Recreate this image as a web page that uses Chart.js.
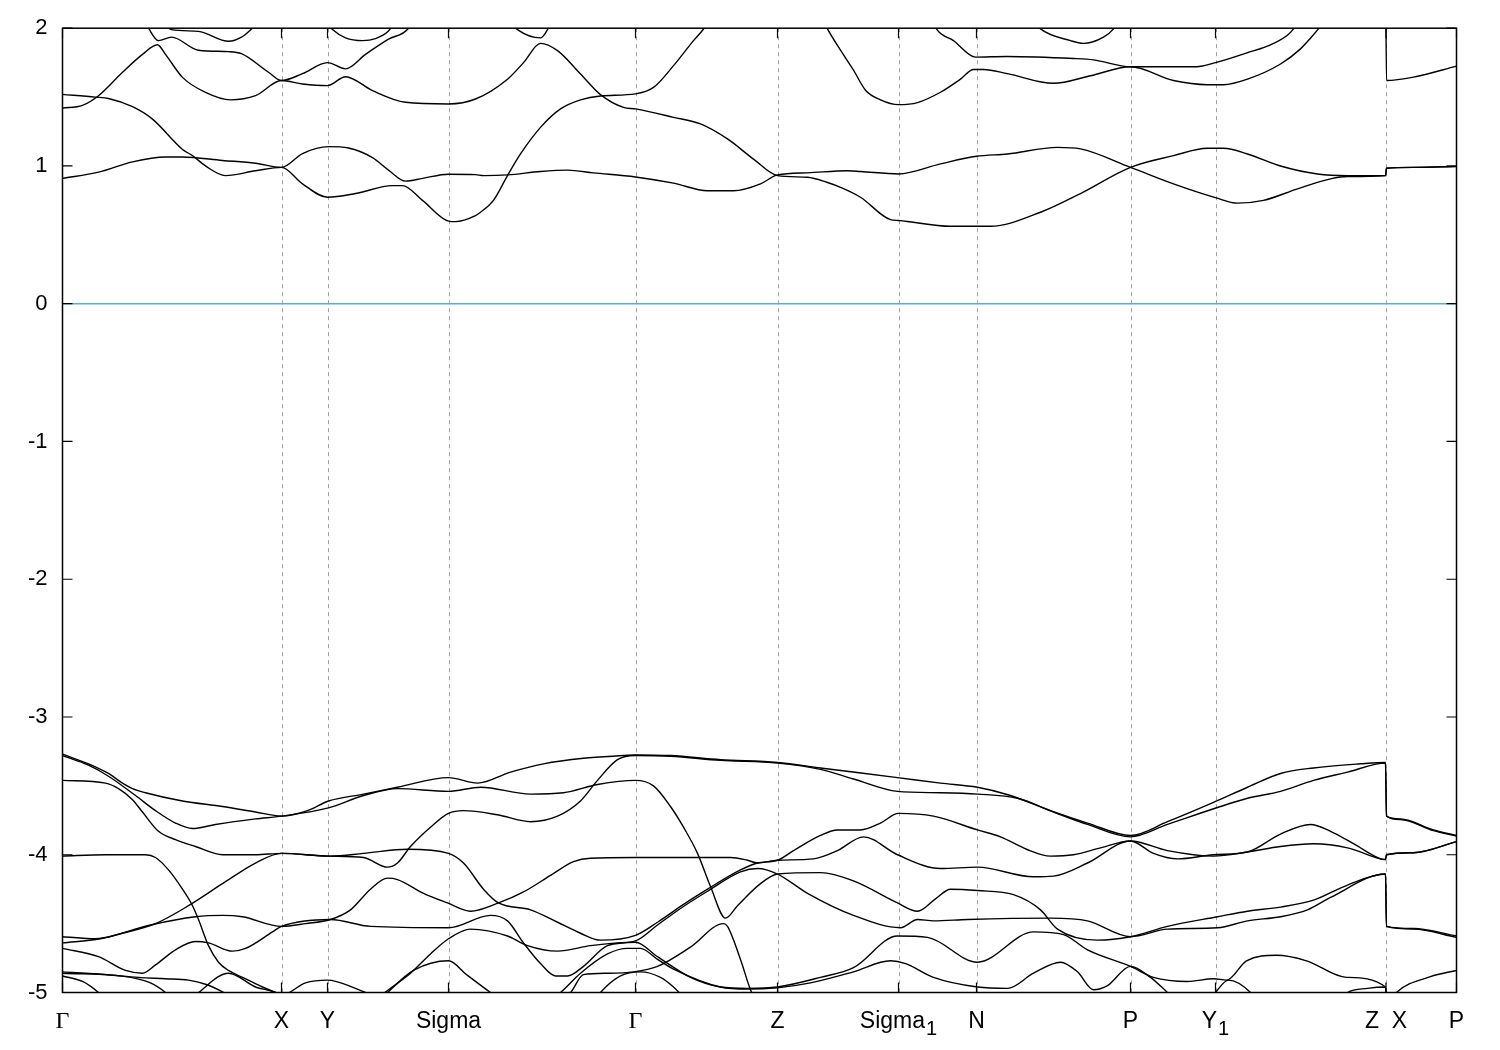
<!DOCTYPE html>
<html>
<head>
<meta charset="utf-8">
<script src="https://cdn.jsdelivr.net/npm/chart.js@4.4.1/dist/chart.umd.min.js"></script>
<style>
  html, body { margin: 0; padding: 0; background: #fff; }
  canvas { display: block; }
</style>
</head>
<body>
<canvas id="bands" width="1500" height="1050"></canvas>
<script>
// high-symmetry path (k in path-length units)
const kTicks = [0, 0.219, 0.265, 0.386, 0.573, 0.715, 0.836, 0.914, 1.068, 1.153, 1.3235, 1.394];
const kNames = ['Γ', 'X', 'Y', 'Sigma', 'Γ', 'Z', 'Sigma', 'N', 'P', 'Y', 'Z  X', 'P'];
const kSubs  = ['', '', '', '', '', '', '1', '', '', '1', '', ''];
const yMin = -5, yMax = 2;

// Fermi level
const fermi = [[0, 0], [1.394, 0]];

// conduction bands [k, E]
const cb1 = [[0.000,0.91],[0.036,0.955],[0.070,1.03],[0.103,1.065],[0.120,1.065],[0.160,1.04],[0.193,1.02],[0.219,0.99],[0.240,1.09],[0.266,1.14],[0.286,1.13],[0.310,1.06],[0.326,0.97],[0.343,0.89],[0.360,0.91],[0.386,0.94],[0.413,0.937],[0.421,0.93],[0.445,0.935],[0.478,0.96],[0.505,0.97],[0.531,0.95],[0.573,0.92],[0.611,0.875],[0.645,0.82],[0.671,0.82],[0.698,0.87],[0.715,0.935],[0.745,0.95],[0.785,0.965],[0.798,0.96],[0.836,0.942],[0.878,1.015],[0.914,1.07],[0.945,1.087],[0.995,1.135],[1.018,1.124],[1.068,0.99],[1.111,0.87],[1.153,0.77],[1.175,0.73],[1.201,0.75],[1.235,0.834],[1.268,0.906],[1.285,0.923],[1.323,0.93],[1.324,0.983],[1.351,0.99],[1.394,0.995]];
const cb2 = [[0.000,1.52],[0.033,1.50],[0.046,1.49],[0.070,1.43],[0.090,1.34],[0.120,1.12],[0.130,1.075],[0.143,1.00],[0.163,0.93],[0.193,0.965],[0.219,0.99],[0.240,0.87],[0.265,0.773],[0.293,0.80],[0.330,0.857],[0.340,0.857],[0.360,0.75],[0.386,0.60],[0.393,0.596],[0.413,0.64],[0.418,0.664],[0.431,0.75],[0.445,0.93],[0.458,1.087],[0.478,1.28],[0.498,1.414],[0.518,1.48],[0.538,1.508],[0.573,1.523],[0.591,1.57],[0.611,1.728],[0.631,1.91],[0.641,1.994],[0.650,2.1]];
const cb3 = [[0.000,1.42],[0.020,1.44],[0.036,1.51],[0.060,1.68],[0.080,1.81],[0.095,1.88],[0.103,1.81],[0.120,1.643],[0.143,1.534],[0.168,1.48],[0.193,1.51],[0.219,1.62],[0.240,1.595],[0.265,1.583],[0.283,1.648],[0.310,1.547],[0.343,1.462],[0.386,1.45],[0.413,1.486],[0.445,1.63],[0.461,1.75],[0.478,1.89],[0.495,1.837],[0.518,1.668],[0.538,1.518],[0.561,1.425],[0.573,1.414],[0.611,1.353],[0.638,1.305],[0.665,1.196],[0.691,1.05],[0.715,0.93],[0.745,0.918],[0.765,0.88],[0.778,0.845],[0.798,0.773],[0.828,0.61],[0.836,0.604],[0.888,0.562],[0.928,0.562],[0.978,0.664],[1.018,0.80],[1.068,0.99],[1.111,1.075],[1.145,1.128],[1.161,1.128],[1.185,1.087],[1.218,1.00],[1.255,0.942],[1.285,0.93],[1.323,0.93],[1.324,0.983],[1.351,0.99],[1.394,0.997]];
const cb4 = [[0.078,2.1],[0.086,2.0],[0.096,1.91],[0.109,1.935],[0.136,1.84],[0.166,1.83],[0.179,1.815],[0.206,1.68],[0.219,1.62],[0.240,1.67],[0.265,1.75],[0.283,1.705],[0.303,1.81],[0.326,1.92],[0.346,2.0],[0.353,2.1]];
const cb5 = [[0.098,2.05],[0.109,1.99],[0.136,1.977],[0.166,1.905],[0.179,1.935],[0.189,1.995],[0.196,2.05]];
const cb6 = [[0.263,2.05],[0.270,1.99],[0.283,1.93],[0.300,1.91],[0.313,1.925],[0.326,1.98],[0.333,2.05]];
const cb7 = [[0.443,2.08],[0.455,1.99],[0.478,1.93],[0.485,1.99],[0.490,2.08]];
const cb8 = [[0.758,2.1],[0.765,1.995],[0.778,1.84],[0.791,1.695],[0.803,1.55],[0.818,1.48],[0.836,1.445],[0.855,1.46],[0.878,1.535],[0.898,1.63],[0.911,1.70],[0.921,1.70],[0.945,1.67],[0.991,1.60],[1.028,1.655],[1.068,1.72],[1.111,1.62],[1.145,1.59],[1.161,1.59],[1.185,1.63],[1.218,1.74],[1.238,1.85],[1.256,1.995],[1.268,2.1],[1.323,2.4],[1.324,1.62],[1.351,1.645],[1.394,1.725]];
const cb9 = [[0.868,2.1],[0.874,1.995],[0.891,1.91],[0.913,1.79],[0.944,1.795],[1.011,1.78],[1.031,1.77],[1.068,1.72],[1.134,1.72],[1.153,1.75],[1.184,1.82],[1.211,1.89],[1.231,1.995],[1.238,2.1]];
const cb10 = [[0.968,2.08],[0.978,1.995],[1.008,1.91],[1.021,1.89],[1.041,1.935],[1.051,1.995],[1.058,2.08]];

// valence bands [k, E]
const vb1 = [[0.000,-3.27],[0.026,-3.34],[0.046,-3.41],[0.060,-3.48],[0.070,-3.52],[0.083,-3.55],[0.120,-3.61],[0.160,-3.65],[0.193,-3.69],[0.219,-3.72],[0.245,-3.68],[0.266,-3.61],[0.301,-3.56],[0.335,-3.51],[0.386,-3.44],[0.415,-3.48],[0.448,-3.40],[0.481,-3.34],[0.521,-3.30],[0.561,-3.28],[0.573,-3.275],[0.608,-3.28],[0.658,-3.31],[0.715,-3.33],[0.758,-3.37],[0.835,-3.44],[0.878,-3.48],[0.915,-3.51],[0.948,-3.57],[0.988,-3.68],[1.025,-3.77],[1.068,-3.86],[1.105,-3.76],[1.151,-3.62],[1.185,-3.51],[1.218,-3.41],[1.251,-3.37],[1.298,-3.34],[1.323,-3.33],[1.324,-3.72],[1.338,-3.74],[1.371,-3.82],[1.394,-3.86]];
const vb2 = [[0.000,-3.28],[0.026,-3.35],[0.046,-3.43],[0.073,-3.57],[0.093,-3.68],[0.113,-3.77],[0.130,-3.81],[0.153,-3.78],[0.193,-3.74],[0.219,-3.72],[0.266,-3.66],[0.301,-3.57],[0.335,-3.52],[0.386,-3.54],[0.418,-3.51],[0.468,-3.56],[0.501,-3.55],[0.535,-3.49],[0.573,-3.46],[0.591,-3.50],[0.608,-3.65],[0.621,-3.80],[0.635,-3.99],[0.648,-4.23],[0.663,-4.46],[0.675,-4.37],[0.698,-4.21],[0.715,-4.14],[0.758,-4.13],[0.791,-4.19],[0.835,-4.35],[0.855,-4.41],[0.873,-4.32],[0.888,-4.25],[0.915,-4.26],[0.951,-4.29],[0.978,-4.40],[0.995,-4.54],[1.035,-4.62],[1.068,-4.595],[1.105,-4.52],[1.155,-4.45],[1.185,-4.41],[1.218,-4.38],[1.251,-4.33],[1.285,-4.22],[1.323,-4.14],[1.324,-4.52],[1.351,-4.535],[1.394,-4.59]];
const vb3 = [[0.000,-3.46],[0.043,-3.48],[0.056,-3.52],[0.070,-3.60],[0.080,-3.69],[0.096,-3.83],[0.113,-3.89],[0.133,-3.94],[0.160,-4.00],[0.193,-4.00],[0.219,-3.99],[0.265,-4.01],[0.301,-4.02],[0.325,-4.09],[0.335,-4.06],[0.348,-3.94],[0.368,-3.80],[0.386,-3.70],[0.401,-3.68],[0.435,-3.71],[0.468,-3.76],[0.495,-3.72],[0.518,-3.61],[0.535,-3.46],[0.555,-3.31],[0.573,-3.28],[0.608,-3.285],[0.658,-3.315],[0.715,-3.335],[0.758,-3.38],[0.791,-3.45],[0.835,-3.54],[0.878,-3.55],[0.915,-3.56],[0.955,-3.59],[0.991,-3.69],[1.025,-3.78],[1.068,-3.87],[1.105,-3.78],[1.158,-3.65],[1.185,-3.59],[1.218,-3.54],[1.251,-3.46],[1.285,-3.40],[1.323,-3.335],[1.324,-3.72],[1.338,-3.745],[1.371,-3.825],[1.394,-3.865]];
const vb4 = [[0.000,-4.01],[0.043,-4.00],[0.083,-4.00],[0.093,-4.02],[0.106,-4.11],[0.120,-4.25],[0.130,-4.37],[0.136,-4.47],[0.146,-4.66],[0.156,-4.78],[0.166,-4.84],[0.180,-4.89],[0.200,-4.96],[0.213,-5.00],[0.219,-5.02],[0.243,-4.93],[0.265,-4.91],[0.293,-4.97],[0.318,-5.05]];
const vb5 = [[0.000,-4.595],[0.033,-4.61],[0.060,-4.57],[0.093,-4.50],[0.126,-4.37],[0.160,-4.21],[0.193,-4.06],[0.219,-3.99],[0.268,-4.01],[0.301,-3.99],[0.345,-3.96],[0.386,-3.99],[0.401,-4.06],[0.421,-4.25],[0.436,-4.35],[0.468,-4.40],[0.495,-4.49],[0.518,-4.57],[0.538,-4.62],[0.573,-4.585],[0.595,-4.49],[0.618,-4.375],[0.645,-4.25],[0.678,-4.11],[0.695,-4.06],[0.715,-4.04],[0.731,-3.97],[0.758,-3.86],[0.775,-3.82],[0.798,-3.82],[0.818,-3.77],[0.836,-3.70],[0.871,-3.72],[0.915,-3.82],[0.938,-3.87],[0.964,-3.96],[0.988,-4.01],[1.011,-4.00],[1.038,-3.95],[1.068,-3.90],[1.091,-3.99],[1.115,-4.03],[1.151,-4.00],[1.185,-3.98],[1.218,-3.85],[1.248,-3.78],[1.268,-3.83],[1.291,-3.92],[1.318,-4.03],[1.323,-4.035],[1.324,-4.00],[1.351,-3.985],[1.394,-3.905]];
const vb6 = [[0.000,-4.64],[0.038,-4.61],[0.088,-4.51],[0.133,-4.45],[0.160,-4.44],[0.180,-4.45],[0.219,-4.52],[0.243,-4.50],[0.268,-4.47],[0.288,-4.40],[0.308,-4.25],[0.325,-4.17],[0.335,-4.18],[0.361,-4.28],[0.385,-4.35],[0.408,-4.41],[0.436,-4.35],[0.461,-4.27],[0.488,-4.15],[0.511,-4.05],[0.528,-4.025],[0.573,-4.02],[0.631,-4.02],[0.668,-4.02],[0.685,-4.04],[0.695,-4.06],[0.715,-4.04],[0.751,-4.03],[0.775,-3.97],[0.801,-3.87],[0.835,-4.00],[0.878,-4.10],[0.915,-4.09],[0.971,-4.16],[0.991,-4.155],[1.025,-4.06],[1.068,-3.90],[1.105,-3.97],[1.151,-4.01],[1.185,-3.98],[1.218,-3.94],[1.251,-3.92],[1.285,-3.95],[1.318,-4.03],[1.323,-4.035],[1.324,-4.00],[1.351,-3.985],[1.394,-3.905]];
const vb7 = [[0.000,-4.68],[0.036,-4.74],[0.063,-4.84],[0.080,-4.86],[0.093,-4.80],[0.113,-4.69],[0.133,-4.63],[0.146,-4.64],[0.170,-4.70],[0.183,-4.68],[0.210,-4.56],[0.219,-4.52],[0.268,-4.47],[0.308,-4.52],[0.386,-4.53],[0.428,-4.44],[0.445,-4.48],[0.461,-4.64],[0.478,-4.79],[0.493,-4.88],[0.505,-4.88],[0.521,-4.81],[0.545,-4.66],[0.573,-4.625],[0.595,-4.51],[0.618,-4.39],[0.645,-4.265],[0.678,-4.125],[0.695,-4.10],[0.715,-4.14],[0.745,-4.28],[0.791,-4.44],[0.838,-4.53],[0.855,-4.47],[0.871,-4.48],[0.905,-4.47],[0.988,-4.46],[1.025,-4.48],[1.068,-4.595],[1.105,-4.54],[1.155,-4.53],[1.185,-4.48],[1.218,-4.45],[1.245,-4.40],[1.268,-4.31],[1.323,-4.14],[1.324,-4.52],[1.351,-4.54],[1.394,-4.60]];
const vb8 = [[0.000,-4.85],[0.043,-4.87],[0.076,-4.89],[0.103,-4.90],[0.126,-4.91],[0.143,-4.94],[0.160,-4.995],[0.173,-5.05]];
const vb9 = [[0.000,-4.88],[0.020,-4.92],[0.036,-5.00],[0.043,-5.05]];
const vb10 = [[0.128,-5.05],[0.136,-5.00],[0.166,-4.86],[0.193,-4.96],[0.213,-5.00],[0.223,-5.05]];
const vb11 = [[0.000,-4.86],[0.058,-4.88],[0.088,-4.93],[0.103,-5.00],[0.110,-5.05]];
const vb12 = [[0.313,-5.05],[0.328,-4.97],[0.348,-4.86],[0.368,-4.72],[0.386,-4.61],[0.408,-4.54],[0.445,-4.59],[0.465,-4.66],[0.495,-4.70],[0.528,-4.66],[0.555,-4.64],[0.573,-4.635],[0.595,-4.74],[0.628,-4.89],[0.658,-4.96],[0.685,-4.97],[0.715,-4.96],[0.758,-4.89],[0.791,-4.82],[0.835,-4.59],[0.865,-4.60],[0.915,-4.78],[0.971,-4.56],[1.001,-4.58],[1.025,-4.69],[1.068,-4.81],[1.091,-4.89],[1.125,-4.92],[1.151,-4.90],[1.164,-4.91],[1.184,-4.77],[1.214,-4.73],[1.244,-4.77],[1.284,-4.89],[1.323,-4.96],[1.324,-5.1],[1.334,-5.00],[1.368,-4.885],[1.394,-4.84]];
const vb13 = [[0.488,-5.05],[0.498,-5.00],[0.518,-4.86],[0.545,-4.72],[0.565,-4.68],[0.578,-4.68],[0.595,-4.76],[0.611,-4.83],[0.658,-4.96],[0.685,-4.975],[0.715,-4.965],[0.748,-4.93],[0.791,-4.85],[0.828,-4.77],[0.843,-4.79],[0.871,-4.89],[0.915,-4.96],[0.945,-4.97],[0.971,-4.86],[0.998,-4.78],[1.015,-4.85],[1.031,-4.98],[1.045,-4.95],[1.068,-4.81],[1.088,-4.89],[1.105,-5.00],[1.113,-5.05]];
const vb14 = [[0.498,-5.05],[0.508,-5.00],[0.521,-4.87],[0.545,-4.86],[0.571,-4.85],[0.595,-4.81],[0.628,-4.67],[0.661,-4.50],[0.665,-4.52],[0.678,-4.76],[0.688,-4.98],[0.693,-5.05]];
const vb15 = [[0.533,-5.05],[0.538,-5.00],[0.558,-4.88],[0.578,-4.85],[0.598,-4.89],[0.611,-4.96],[0.623,-5.05]];
const vb16 = [[0.318,-5.05],[0.325,-5.00],[0.351,-4.84],[0.386,-4.77],[0.404,-4.87],[0.428,-5.00],[0.438,-5.05]];
const vb17 = [[1.148,-5.05],[1.153,-5.00],[1.166,-4.91],[1.188,-5.00],[1.193,-5.05]];
const vb18 = [[1.278,-5.05],[1.285,-5.00],[1.305,-4.97],[1.323,-4.96],[1.324,-5.1]];

const bands = [cb1, cb2, cb3, cb4, cb5, cb6, cb7, cb8, cb9, cb10,
               vb1, vb2, vb3, vb4, vb5, vb6, vb7, vb8, vb9, vb10, vb11, vb12, vb13, vb14, vb15, vb16, vb17, vb18];

const textFont = '"Liberation Sans", Arial, Helvetica, sans-serif';
const greekFont = '"Liberation Serif", "Times New Roman", serif';

const toXY = arr => arr.map(p => ({ x: p[0], y: p[1] }));

const datasets = [{
    data: toXY(fermi),
    borderColor: '#4fb0e6',
    borderWidth: 1.6
}];
bands.forEach(b => {
    datasets.push({
        data: toXY(b),
        borderColor: '#000000',
        borderWidth: 1.4,
        cubicInterpolationMode: 'monotone'
    });
});

// frame, inner tick marks, dashed symmetry lines and k-point labels
const bandFrame = {
    id: 'bandFrame',
    beforeDatasetsDraw(chart) {
        const { ctx, chartArea: a, scales: { x } } = chart;
        ctx.save();
        ctx.strokeStyle = '#a0a0a0';
        ctx.lineWidth = 1;
        ctx.setLineDash([4, 4]);
        kTicks.slice(1, -1).forEach(k => {
            const px = Math.round(x.getPixelForValue(k)) + 0.5;
            ctx.beginPath();
            ctx.moveTo(px, a.top);
            ctx.lineTo(px, a.bottom);
            ctx.stroke();
        });
        ctx.restore();
    },
    afterDatasetsDraw(chart) {
        const { ctx, chartArea: a, scales: { x, y } } = chart;
        ctx.save();
        ctx.strokeStyle = '#000';
        ctx.lineWidth = 1.2;
        // tick marks pointing inward
        kTicks.forEach(k => {
            const px = x.getPixelForValue(k);
            ctx.beginPath();
            ctx.moveTo(px, a.bottom); ctx.lineTo(px, a.bottom - 10);
            ctx.moveTo(px, a.top); ctx.lineTo(px, a.top + 10);
            ctx.stroke();
        });
        for (let v = yMin; v <= yMax; v++) {
            const py = y.getPixelForValue(v);
            ctx.beginPath();
            ctx.moveTo(a.left, py); ctx.lineTo(a.left + 10, py);
            ctx.moveTo(a.right, py); ctx.lineTo(a.right - 10, py);
            ctx.stroke();
        }
        ctx.lineWidth = 1.5;
        ctx.strokeRect(a.left, a.top, a.right - a.left, a.bottom - a.top);

        // k labels with subscripts
        ctx.fillStyle = '#000';
        ctx.textBaseline = 'alphabetic';
        ctx.textAlign = 'left';
        const base = a.bottom + 35;
        kTicks.forEach((k, i) => {
            const px = x.getPixelForValue(k);
            const name = kNames[i];
            const mainFont = name === 'Γ' ? '24px ' + greekFont : '23px ' + textFont;
            const subFont = '20px ' + textFont;
            ctx.font = mainFont;
            const mw = ctx.measureText(name).width;
            ctx.font = subFont;
            const sw = kSubs[i] ? ctx.measureText(kSubs[i]).width + 1 : 0;
            const start = px - (mw + sw) / 2;
            ctx.font = mainFont;
            ctx.fillText(name, start, base);
            if (kSubs[i]) {
                ctx.font = subFont;
                ctx.fillText(kSubs[i], start + mw + 1, base + 7);
            }
        });
        ctx.restore();
    }
};

new Chart(document.getElementById('bands'), {
    type: 'scatter',
    data: { datasets },
    options: {
        responsive: false,
        animation: false,
        devicePixelRatio: 1,
        showLine: true,
        layout: { padding: { top: 27.5, right: 43.5, left: 0, bottom: 0 } },
        elements: { point: { radius: 0, hoverRadius: 0 } },
        plugins: {
            legend: { display: false },
            tooltip: { enabled: false }
        },
        scales: {
            x: {
                type: 'linear',
                min: 0,
                max: 1.394,
                grid: { display: false },
                border: { display: false },
                ticks: { display: false },
                afterFit(scale) { scale.height = 57.5; }
            },
            y: {
                type: 'linear',
                min: yMin,
                max: yMax,
                grid: { display: false, drawTicks: false },
                border: { display: false },
                ticks: {
                    stepSize: 1,
                    padding: 15,
                    color: '#000',
                    font: { family: textFont, size: 22 }
                },
                afterFit(scale) { scale.width = 62.5; }
            }
        }
    },
    plugins: [bandFrame]
});
</script>
</body>
</html>
